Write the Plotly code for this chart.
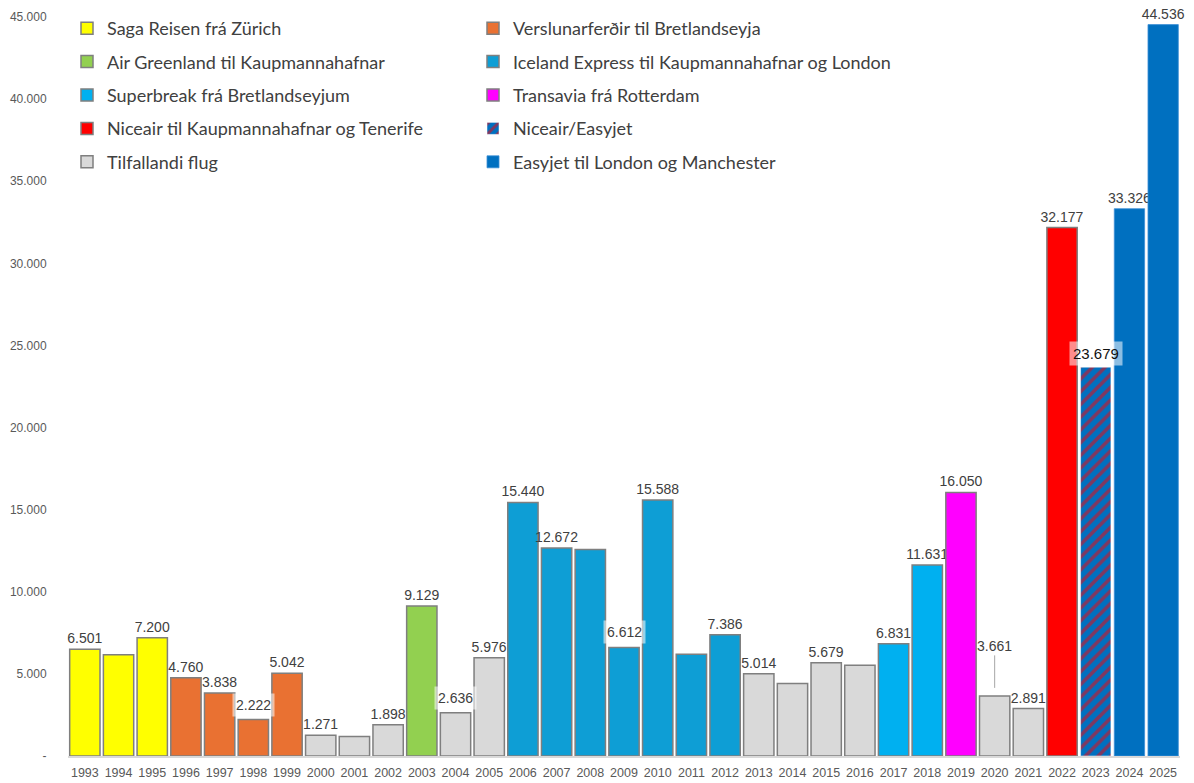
import plotly.graph_objects as go

years = [str(y) for y in range(1993, 2026)]
passengers = [6501, 6160, 7200, 4760, 3838, 2222, 5042, 1271, 1190, 1898, 9129, 2636, 5976,
              15440, 12672, 12580, 6612, 15588, 6200, 7386, 5014, 4410, 5679, 5520, 6831,
              11631, 16050, 3661, 2891, 32177, 23679, 33326, 44536]
carrier = ['saga'] * 3 + ['versl'] * 4 + ['tilf'] * 3 + ['airg'] + ['tilf'] * 2 + ['iceex'] * 7 + \
          ['tilf'] * 4 + ['super'] * 2 + ['trans'] + ['tilf'] * 2 + ['nice'] + ['niceeasy'] + ['easy'] * 2
unlabeled = ['1994', '2001', '2008', '2011', '2014', '2016']
boxed = ['1998', '2004', '2009', '2023']
leader = ['2020']

# key, name, colour, legend
groups = [
    ('saga', 'Saga Reisen frá Zürich', '#FFFF00', 'legend'),
    ('airg', 'Air Greenland til Kaupmannahafnar', '#92D050', 'legend'),
    ('super', 'Superbreak frá Bretlandseyjum', '#00B0F0', 'legend'),
    ('nice', 'Niceair til Kaupmannahafnar og Tenerife', '#FF0000', 'legend'),
    ('tilf', 'Tilfallandi flug', '#D9D9D9', 'legend'),
    ('versl', 'Verslunarferðir til Bretlandseyja', '#E97132', 'legend2'),
    ('iceex', 'Iceland Express til Kaupmannahafnar og London', '#0E9ED5', 'legend2'),
    ('trans', 'Transavia frá Rotterdam', '#FF00FF', 'legend2'),
    ('niceeasy', 'Niceair/Easyjet', '#0070C0', 'legend2'),
    ('easy', 'Easyjet til London og Manchester', '#0070C0', 'legend2'),
]

W, H = 1186, 775  # page body has an 8px margin


def fmt(v):
    return f'{v:,}'.replace(',', '.')


fig = go.Figure()
for key, name, colour, leg in groups:
    xs = [y for y, c in zip(years, carrier) if c == key]
    vs = [v for v, c in zip(passengers, carrier) if c == key]
    txt = ['' if (y in unlabeled or y in boxed or y in leader) else fmt(v) for y, v in zip(xs, vs)]
    marker = dict(color=colour, line=dict(color='#7F7F7F', width=1.5))
    if key == 'niceeasy':
        marker = dict(color=colour, line=dict(color='#FFFFFF', width=0.5),
                      pattern=dict(shape='/', fgcolor='#FF0000', bgcolor=colour, size=9, solidity=0.4))
    if key == 'easy':
        marker = dict(color=colour, line=dict(color='#3d8fd6', width=0.8))
    fig.add_trace(go.Bar(x=xs, y=vs, name=name, marker=marker, text=txt, textposition='outside',
                         textangle=0, textfont=dict(size=14, color='#404040', family='Liberation Sans'),
                         cliponaxis=False, legend=leg, legendgroup=key, hoverinfo='x+y'))

# labels that Excel moved or boxed; x given as category index
for i, (y, v) in enumerate(zip(years, passengers)):
    if y in boxed:
        dark = y == '2023'
        fig.add_annotation(x=i, y=v, text=fmt(v), showarrow=False, yanchor='bottom', yshift=1 if dark else 3,
                           bgcolor='rgba(255,255,255,0.55)', borderpad=3,
                           font=dict(size=15 if dark else 14, color='#111111' if dark else '#404040',
                                     family='Liberation Sans'))
    if y in leader:
        fig.add_annotation(x=i, y=v, text=fmt(v), showarrow=True, arrowhead=0, arrowwidth=1,
                           arrowcolor='#A6A6A6', ax=0, ay=-50, standoff=8,
                           font=dict(size=14, color='#404040', family='Liberation Sans'))

fig.update_layout(
    width=W, height=H,
    margin=dict(l=60, r=14, t=9, b=27, autoexpand=False),
    plot_bgcolor='white', paper_bgcolor='white',
    barmode='relative', bargap=0.1,
    uniformtext=dict(minsize=14, mode='show'),
    showlegend=True,
    legend=dict(xref='container', yref='container', x=59 / W, y=1 - 2 / H,
                xanchor='left', yanchor='top', tracegroupgap=7, itemwidth=30,
                font=dict(size=18, color='#404040', family='Lato'), bgcolor='rgba(0,0,0,0)'),
    legend2=dict(xref='container', yref='container', x=465 / W, y=1 - 2 / H,
                 xanchor='left', yanchor='top', tracegroupgap=7, itemwidth=30,
                 font=dict(size=18, color='#404040', family='Lato'), bgcolor='rgba(0,0,0,0)'),
)
fig.update_xaxes(type='category', categoryorder='array', categoryarray=years,
                 range=[-0.5, len(years) - 0.5],
                 tickfont=dict(size=12.5, color='#595959', family='Liberation Sans'),
                 showline=True, linecolor='#D9D9D9', linewidth=1.5, ticks='', tickangle=0,
                 ticklabelstandoff=4)
fig.update_yaxes(range=[0, 45000], tickvals=list(range(0, 45001, 5000)),
                 ticktext=['-'] + [fmt(v) for v in range(5000, 45001, 5000)],
                 tickfont=dict(size=12, color='#595959', family='Liberation Sans'),
                 showgrid=False, zeroline=False, showline=False, ticklen=18, tickcolor='white', ticks='outside')

fig.write_html("out.html")
